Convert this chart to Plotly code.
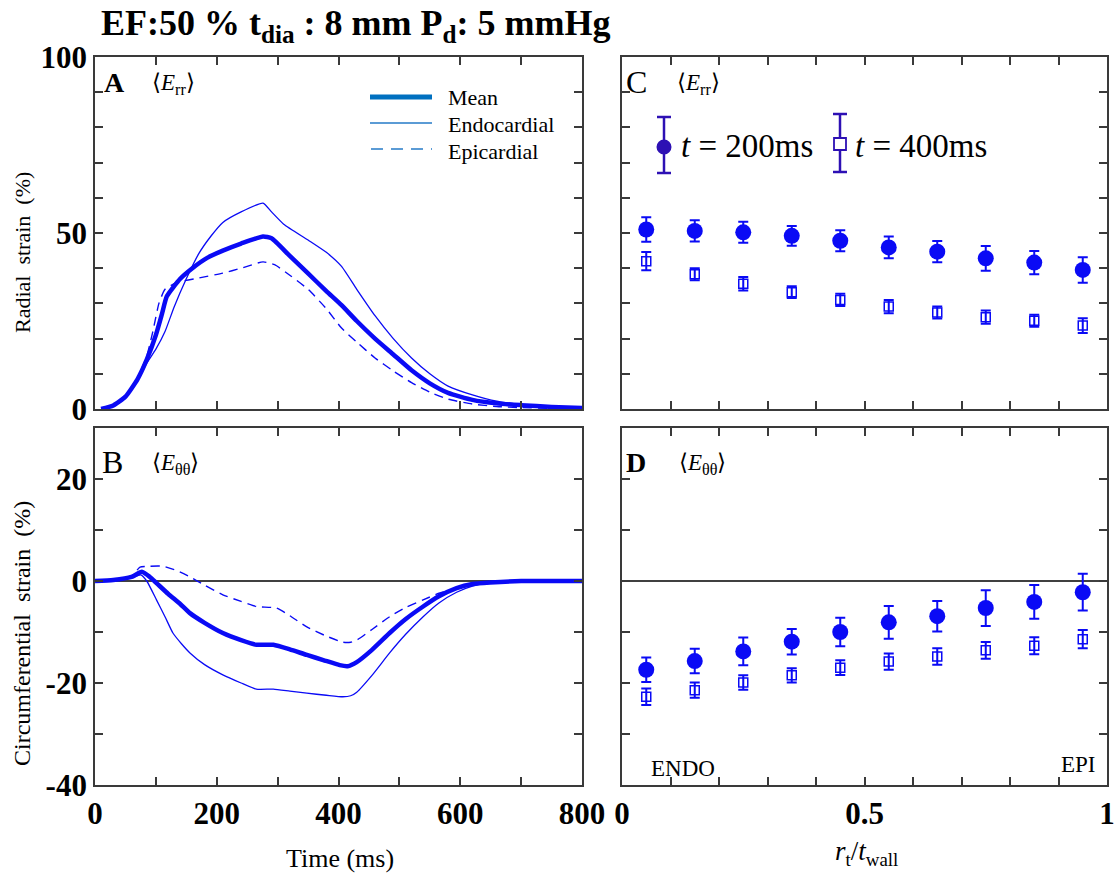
import plotly.graph_objects as go

W, H = 1118, 883
SERIF = "Liberation Serif, Times New Roman, serif"

# ---------------- Data ----------------
# Panel A: radial strain vs time
tA_mean = [10, 30, 50, 70, 85, 100, 110, 118, 140, 160, 185, 210, 240, 276, 290, 320, 350, 380, 405, 430, 460, 490, 520, 550, 580, 620, 660, 700, 750, 800]
vA_mean = [0, 1, 3.5, 8.5, 14, 21, 27, 32, 37, 40, 43, 45, 47, 49, 48.5, 43.5, 38.5, 33.5, 29.5, 25, 20, 15.5, 11, 7.3, 4.6, 2.6, 1.6, 1.1, 0.6, 0.3]
tA_endo = [10, 30, 50, 70, 85, 100, 115, 130, 150, 170, 190, 210, 240, 276, 290, 310, 350, 380, 405, 430, 460, 490, 520, 550, 580, 620, 660, 700, 750, 800]
vA_endo = [0, 0.8, 3.3, 8.3, 13, 17, 22, 29, 37, 44, 49, 53, 56, 58.5, 56, 52.5, 48, 44.5, 40.5, 34, 26.5, 20, 14.5, 10, 6.5, 4, 2.2, 1.3, 0.6, 0.3]
tA_epi = [10, 30, 50, 70, 85, 95, 105, 115, 135, 170, 210, 240, 276, 295, 320, 350, 380, 405, 430, 460, 490, 520, 550, 580, 620, 660, 700, 750, 800]
vA_epi = [0, 1, 3.6, 9, 15, 22, 30, 34, 36, 37.2, 38.6, 40, 41.8, 41, 38, 34, 28.5, 23, 19, 14.5, 10.8, 7.5, 4.8, 2.8, 1.4, 0.7, 0.4, 0.2, 0.1]

# Panel B: circumferential strain vs time
tB_mean = [0, 30, 60, 77, 90, 101, 120, 140, 156, 180, 210, 240, 265, 293, 320, 348, 375, 402, 415, 430, 455, 484, 510, 539, 565, 594, 620, 649, 700, 800]
vB_mean = [0, 0.2, 0.8, 1.8, 0.8, -0.4, -2.5, -4.5, -6.3, -8.2, -10.2, -11.6, -12.5, -12.5, -13.4, -14.5, -15.5, -16.5, -16.7, -15.9, -13.5, -10.2, -7.5, -5, -3, -1.4, -0.6, -0.3, 0, 0]
tB_endo = [0, 30, 60, 75, 85, 101, 115, 128, 142, 156, 180, 210, 240, 265, 293, 320, 348, 380, 407, 420, 430, 455, 484, 510, 539, 565, 594, 620, 649, 700, 800]
vB_endo = [0, 0.2, 0.6, 1.2, 0, -3.7, -7, -10.2, -12.3, -14.1, -16.4, -18.4, -20, -21.2, -21.2, -21.6, -22, -22.4, -22.7, -22.5, -21.8, -18.5, -14.1, -10.5, -7, -4.3, -2.2, -1, -0.3, 0, 0]
tB_epi = [0, 30, 60, 74, 90, 112, 135, 156, 180, 210, 240, 265, 298, 320, 348, 380, 407, 420, 430, 455, 484, 510, 539, 565, 594, 620, 649, 700, 800]
vB_epi = [0, 0.2, 1, 2.7, 2.9, 2.9, 2, 0.8, -0.8, -2.7, -4, -5, -5.3, -6.8, -9, -10.8, -12, -12, -11.6, -9.5, -7, -5.2, -3.7, -2.4, -1.4, -0.6, -0.3, 0, 0]

# Panels C/D: transmural position
r_pos = [0.05, 0.15, 0.25, 0.35, 0.45, 0.55, 0.65, 0.75, 0.85, 0.95]
C_200 = [51.0, 50.6, 50.2, 49.2, 47.8, 45.9, 44.7, 42.8, 41.6, 39.5]
C_200_err = [3.5, 3.0, 3.0, 2.8, 3.0, 3.1, 3.0, 3.5, 3.3, 3.6]
C_400 = [42.0, 38.3, 35.6, 33.2, 31.0, 29.1, 27.4, 26.1, 25.1, 23.7]
C_400_err = [2.6, 1.7, 1.9, 1.7, 1.75, 1.9, 1.7, 1.9, 1.7, 2.1]
D_200 = [-17.4, -15.7, -13.8, -11.9, -10.0, -8.1, -6.9, -5.3, -4.1, -2.2]
D_200_err = [2.4, 2.4, 2.7, 2.5, 2.8, 3.2, 3.0, 3.5, 3.3, 3.6]
D_400 = [-22.7, -21.4, -19.9, -18.5, -17.0, -15.8, -14.8, -13.6, -12.7, -11.4]
D_400_err = [1.6, 1.5, 1.4, 1.4, 1.45, 1.6, 1.6, 1.65, 1.65, 1.8]

# Tick definitions (labelled ticks + all tick marks)
time_major = [0, 200, 400, 600, 800]
time_minor = list(range(0, 801, 100))
rad_major = [0, 50, 100]
rad_minor = list(range(0, 101, 10))
circ_major = [-40, -20, 0, 20]
circ_minor = list(range(-40, 31, 10))
r_major = [0, 0.5, 1]
r_major_text = ["0", "0.5", "1"]
r_minor = [round(0.1 * i, 1) for i in range(11)]

BLUE = "#0a0af5"
FRAME = "#3a3a3a"


def px(x):
    return x / W


def py(y):
    return 1 - y / H


fig = go.Figure()

SPL = dict(shape="spline", smoothing=0.5)

# Panel A
fig.add_trace(go.Scatter(x=tA_endo, y=vA_endo, mode="lines", line=dict(color=BLUE, width=1.3, **SPL), xaxis="x", yaxis="y", showlegend=False))
fig.add_trace(go.Scatter(x=tA_epi, y=vA_epi, mode="lines", line=dict(color=BLUE, width=1.4, dash="9px,6px", **SPL), xaxis="x", yaxis="y", showlegend=False))
fig.add_trace(go.Scatter(x=tA_mean, y=vA_mean, mode="lines", line=dict(color=BLUE, width=4.5, **SPL), xaxis="x", yaxis="y", showlegend=False))
# Panel B
fig.add_trace(go.Scatter(x=tB_endo, y=vB_endo, mode="lines", line=dict(color=BLUE, width=1.3, **SPL), xaxis="x2", yaxis="y2", showlegend=False))
fig.add_trace(go.Scatter(x=tB_epi, y=vB_epi, mode="lines", line=dict(color=BLUE, width=1.4, dash="9px,6px", **SPL), xaxis="x2", yaxis="y2", showlegend=False))
fig.add_trace(go.Scatter(x=tB_mean, y=vB_mean, mode="lines", line=dict(color=BLUE, width=4.5, **SPL), xaxis="x2", yaxis="y2", showlegend=False))


def pts(x, y, err, sym, size, xa, ya):
    filled = sym == "circle"
    return go.Scatter(
        x=x, y=y, mode="markers", xaxis=xa, yaxis=ya, showlegend=False,
        marker=dict(symbol=sym, size=size, color=BLUE, line=dict(color=BLUE, width=0 if filled else 1.5)),
        error_y=dict(type="data", array=err, color=BLUE, thickness=2, width=5),
    )


fig.add_trace(pts(r_pos, C_200, C_200_err, "circle", 16, "x3", "y3"))
fig.add_trace(pts(r_pos, C_400, C_400_err, "square-open", 9, "x3", "y3"))
fig.add_trace(pts(r_pos, D_200, D_200_err, "circle", 16, "x4", "y4"))
fig.add_trace(pts(r_pos, D_400, D_400_err, "square-open", 9, "x4", "y4"))

xl = [px(95), px(582)]
xr = [px(622), px(1107)]
ytop = [py(409), py(57)]
ybot = [py(785), py(428)]

tickfont = dict(family=SERIF, size=31, color="black")


def ax(domain, rng, major, minor, show, anchor, text=None):
    if text is None:
        text = [str(v) for v in major]
    return dict(domain=domain, range=rng, tickmode="array", tickvals=major,
                ticktext=["<b>" + s + "</b>" for s in text], showticklabels=show,
                ticks="inside", ticklen=8, tickwidth=1.5, tickcolor=FRAME,
                minor=dict(tickmode="array", tickvals=minor, ticks="inside", ticklen=8,
                           tickwidth=1.5, tickcolor=FRAME, showgrid=False),
                showline=True, linecolor=FRAME, linewidth=1.8, mirror="ticks",
                showgrid=False, zeroline=False, tickfont=tickfont, anchor=anchor,
                ticklabelstandoff=0, automargin=False)


layout = dict(
    width=W, height=H, autosize=False, margin=dict(l=0, r=0, t=0, b=0, pad=0),
    plot_bgcolor="white", paper_bgcolor="white", showlegend=False,
    xaxis=ax(xl, [0, 800], time_major, time_minor, False, "y"),
    yaxis=ax(ytop, [0, 100], rad_major, rad_minor, True, "x"),
    xaxis2=ax(xl, [0, 800], time_major, time_minor, True, "y2"),
    yaxis2=ax(ybot, [-40, 30], circ_major, circ_minor, True, "x2"),
    xaxis3=ax(xr, [0, 1], r_major, r_minor, False, "y3", r_major_text),
    yaxis3=ax(ytop, [0, 100], rad_major, rad_minor, False, "x3"),
    xaxis4=ax(xr, [0, 1], r_major, r_minor, True, "y4", r_major_text),
    yaxis4=ax(ybot, [-40, 30], circ_major, circ_minor, False, "x4"),
)
fig.update_layout(**layout)

shapes = []
# zero lines in B and D
for xa in ["x2", "x4"]:
    ya = "y2" if xa == "x2" else "y4"
    shapes.append(dict(type="line", xref=f"{xa} domain", yref=ya, x0=0, x1=1, y0=0, y1=0,
                       line=dict(color="black", width=1.5), layer="below"))

# Legend A (drawn)
LEG_MEAN = "#0070C0"
LEG_THIN = "#5B9BD5"
shapes.append(dict(type="line", xref="paper", yref="paper", x0=px(370), x1=px(432), y0=py(97), y1=py(97), line=dict(color=LEG_MEAN, width=5)))
shapes.append(dict(type="line", xref="paper", yref="paper", x0=px(370), x1=px(432), y0=py(123), y1=py(123), line=dict(color=LEG_THIN, width=2)))
shapes.append(dict(type="line", xref="paper", yref="paper", x0=px(371), x1=px(432), y0=py(149), y1=py(149), line=dict(color=LEG_THIN, width=2, dash="12px,8px")))

# Legend C (drawn)
LEG_C = "#2d10b4"
for cx, top, bot in [(664, 117, 173), (840, 114, 172)]:
    shapes.append(dict(type="line", xref="paper", yref="paper", x0=px(cx), x1=px(cx), y0=py(top), y1=py(bot), line=dict(color=LEG_C, width=2.5)))
    for yy in (top, bot):
        shapes.append(dict(type="line", xref="paper", yref="paper", x0=px(cx - 7), x1=px(cx + 7), y0=py(yy), y1=py(yy), line=dict(color=LEG_C, width=2.5)))
shapes.append(dict(type="circle", xref="paper", yref="paper", x0=px(656.5), x1=px(671.5), y0=py(154.5), y1=py(139.5), fillcolor=LEG_C, line=dict(color=LEG_C, width=0)))
shapes.append(dict(type="rect", xref="paper", yref="paper", x0=px(834), x1=px(846), y0=py(150), y1=py(138), fillcolor="white", line=dict(color=LEG_C, width=1.8)))
fig.update_layout(shapes=shapes)

ann = []


def txt(x, y, s, size, xanchor="left", yanchor="middle", bold=False, color="black", angle=0):
    if bold:
        s = "<b>" + s + "</b>"
    ann.append(dict(x=px(x), y=py(y), xref="paper", yref="paper", text=s, showarrow=False,
                    xanchor=xanchor, yanchor=yanchor, textangle=angle,
                    font=dict(family=SERIF, size=size, color=color)))


# Title
txt(356, 26, "EF:50 % t<sub>dia</sub> : 8 mm P<sub>d</sub>: 5 mmHg", 36, xanchor="center", bold=True)
# Panel labels
txt(102, 82, "A", 28, bold=True)
txt(150, 84, "⟨<i>E</i><sub>rr</sub>⟩", 23)
txt(100, 462, "B", 32)
txt(150, 464, "⟨<i>E</i><sub>θθ</sub>⟩", 23)
txt(624, 82, "C", 32)
txt(675, 84, "⟨<i>E</i><sub>rr</sub>⟩", 23)
txt(624, 462, "D", 28, bold=True)
txt(677, 464, "⟨<i>E</i><sub>θθ</sub>⟩", 23)
# Legend A text
txt(446, 98, "Mean", 22)
txt(446, 124, "Endocardial", 22)
txt(446, 151, "Epicardial", 22)
# Legend C text
txt(679, 146, "<i>t</i> = 200ms", 33)
txt(853, 146, "<i>t</i> = 400ms", 33)
# ENDO / EPI
txt(649, 768, "ENDO", 23)
txt(1098, 764, "EPI", 23, xanchor="right")
# Axis titles
txt(22, 253, "Radial  strain  (%)", 22, xanchor="center", angle=-90)
txt(22, 634, "Circumferential  strain  (%)", 24, xanchor="center", angle=-90)
txt(340, 858, "Time (ms)", 26, xanchor="center")
txt(866, 853, "<i>r</i><sub>t</sub>/<i>t</i><sub>wall</sub>", 27, xanchor="center")
fig.update_layout(annotations=ann)

fig.write_html("out.html")
